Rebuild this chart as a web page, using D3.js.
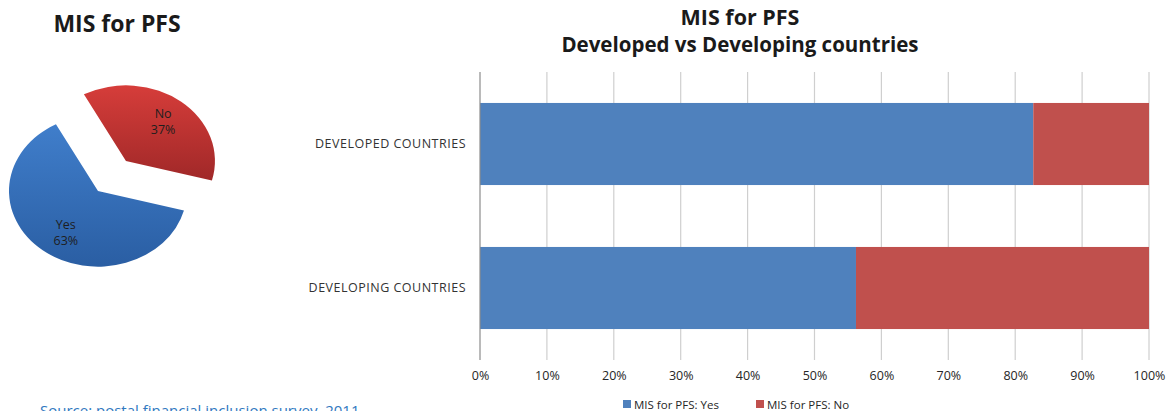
<!DOCTYPE html>
<html>
<head>
<meta charset="utf-8">
<script src="https://cdn.jsdelivr.net/npm/d3@7"></script>
<style>
  html, body { margin: 0; padding: 0; background: #fff; }
  svg { display: block; font-family: "Open Sans", sans-serif; }
</style>
</head>
<body>
<svg id="chart" width="1170" height="411"></svg>
<script>
// Overall share of respondents with an MIS for postal financial services
const pieLabels = ["Yes", "No"];
const pieValues = [63, 37];

// Share by country group (percent)
const groups = ["DEVELOPED COUNTRIES", "DEVELOPING COUNTRIES"];
const yesShare = [82.7, 56.2];
const noShare = [17.3, 43.8];
const seriesNames = ["MIS for PFS: Yes", "MIS for PFS: No"];
const tickValues = [0, 10, 20, 30, 40, 50, 60, 70, 80, 90, 100];

const svg = d3.select("#chart");
const defs = svg.append("defs");

// ---------- Pie ----------
svg.append("text")
  .attr("x", 117).attr("y", 32)
  .attr("text-anchor", "middle")
  .attr("font-size", 23).attr("font-weight", 700)
  .attr("fill", "#1a1a1a")
  .text("MIS for PFS");

const pieGrad = [
  { id: "gYes", top: "#407ecb", bottom: "#2a5ea3" },
  { id: "gNo", top: "#d63d3a", bottom: "#a02828" }
];
pieGrad.forEach(g => {
  const lg = defs.append("linearGradient").attr("id", g.id)
    .attr("x1", 0).attr("y1", 0).attr("x2", 0).attr("y2", 1);
  lg.append("stop").attr("offset", "0%").attr("stop-color", g.top);
  lg.append("stop").attr("offset", "100%").attr("stop-color", g.bottom);
});

const deg = Math.PI / 180;
const pie = d3.pie().sort(null)
  .startAngle(105 * deg).endAngle(465 * deg);
const arcs = pie(pieValues);
const radius = 89;
const arc = d3.arc().innerRadius(0).outerRadius(radius);
const tilt = 0.85;
const pieCenter = [98, 191];
const explode = [0, 45];
const labelShift = [[1, 5], [4, -5]];

const pieG = svg.append("g");
arcs.forEach((a, i) => {
  const mid = (a.startAngle + a.endAngle) / 2;
  const dx = Math.sin(mid) * explode[i];
  const dy = -Math.cos(mid) * explode[i];
  const cx = pieCenter[0] + dx, cy = pieCenter[1] + dy * tilt;
  pieG.append("path")
    .attr("transform", `translate(${cx},${cy}) scale(1,${tilt})`)
    .attr("d", arc(a))
    .attr("fill", `url(#${pieGrad[i].id})`);
  const c = d3.arc().innerRadius(radius * 0.6).outerRadius(radius * 0.6).centroid(a);
  const t = pieG.append("text")
    .attr("transform", `translate(${cx + c[0] + labelShift[i][0]},${cy + c[1] * tilt + labelShift[i][1]})`)
    .attr("text-anchor", "middle")
    .attr("font-size", 12.5).attr("fill", "#1e1e1e");
  t.append("tspan").attr("x", 0).attr("dy", "-0.2em").text(pieLabels[i]);
  t.append("tspan").attr("x", 0).attr("dy", "1.3em").text(pieValues[i] + "%");
});

// ---------- Stacked bar ----------
svg.append("text")
  .attr("x", 740).attr("y", 25)
  .attr("text-anchor", "middle")
  .attr("font-size", 21.5).attr("font-weight", 700).attr("fill", "#1a1a1a")
  .text("MIS for PFS");
svg.append("text")
  .attr("x", 740).attr("y", 52)
  .attr("text-anchor", "middle")
  .attr("font-size", 20.5).attr("font-weight", 700).attr("fill", "#1a1a1a")
  .text("Developed vs Developing countries");

const plot = { left: 480, right: 1149, top: 72, bottom: 360 };
const x = d3.scaleLinear().domain([0, 100]).range([plot.left, plot.right]);
const y = d3.scaleBand().domain(groups).range([plot.top, plot.bottom])
  .paddingInner(0.43).paddingOuter(0.215);

// gridlines
svg.append("g").selectAll("line")
  .data(tickValues.slice(1))
  .join("line")
  .attr("x1", d => x(d)).attr("x2", d => x(d))
  .attr("y1", plot.top).attr("y2", plot.bottom)
  .attr("stroke", "#cfcfcf").attr("stroke-width", 1.2);

const colors = ["#4f81bd", "#c0504d"];
const rows = groups.map((g, i) => ({ group: g, yes: yesShare[i], no: noShare[i] }));
const stacked = d3.stack().keys(["yes", "no"])(rows);

svg.append("g").selectAll("g")
  .data(stacked)
  .join("g")
  .attr("fill", (d, i) => colors[i])
  .selectAll("rect")
  .data(d => d)
  .join("rect")
  .attr("x", d => x(d[0]))
  .attr("width", d => x(d[1]) - x(d[0]))
  .attr("y", d => y(d.data.group))
  .attr("height", y.bandwidth());

// value axis line
svg.append("line")
  .attr("x1", plot.left).attr("x2", plot.left)
  .attr("y1", plot.top).attr("y2", plot.bottom)
  .attr("stroke", "#8c8c8c").attr("stroke-width", 1.2);

// tick labels
const xAxis = d3.axisBottom(x).tickValues(tickValues).tickSize(0).tickPadding(0)
  .tickFormat(d => d + "%");
const xg = svg.append("g").attr("transform", `translate(0,${plot.bottom + 11})`).call(xAxis);
xg.select(".domain").remove();
xg.selectAll("text")
  .attr("font-size", 12.5).attr("fill", "#262626")
  .attr("font-family", "'Open Sans', sans-serif")
  .attr("dy", "0.71em");

// category labels
const yAxis = d3.axisLeft(y).tickSize(0).tickPadding(0);
const yg = svg.append("g").attr("transform", `translate(${plot.left - 14},0)`).call(yAxis);
yg.select(".domain").remove();
yg.selectAll("text")
  .attr("font-size", 12.5).attr("fill", "#333")
  .attr("letter-spacing", 0.5)
  .attr("font-family", "'Open Sans', sans-serif");

// legend
const legend = svg.append("g").attr("font-family", "'Open Sans', sans-serif");
const legendX = [623, 756];
seriesNames.forEach((name, i) => {
  legend.append("rect")
    .attr("x", legendX[i]).attr("y", 400)
    .attr("width", 8).attr("height", 8)
    .attr("fill", colors[i]);
  legend.append("text")
    .attr("x", legendX[i] + 11).attr("y", 409)
    .attr("font-size", 11.5).attr("fill", "#262626")
    .text(name);
});

// source note
svg.append("text")
  .attr("x", 40).attr("y", 416)
  .attr("font-size", 15).attr("fill", "#2f78c0")
  .text("Source: postal financial inclusion survey, 2011");
</script>
</body>
</html>
